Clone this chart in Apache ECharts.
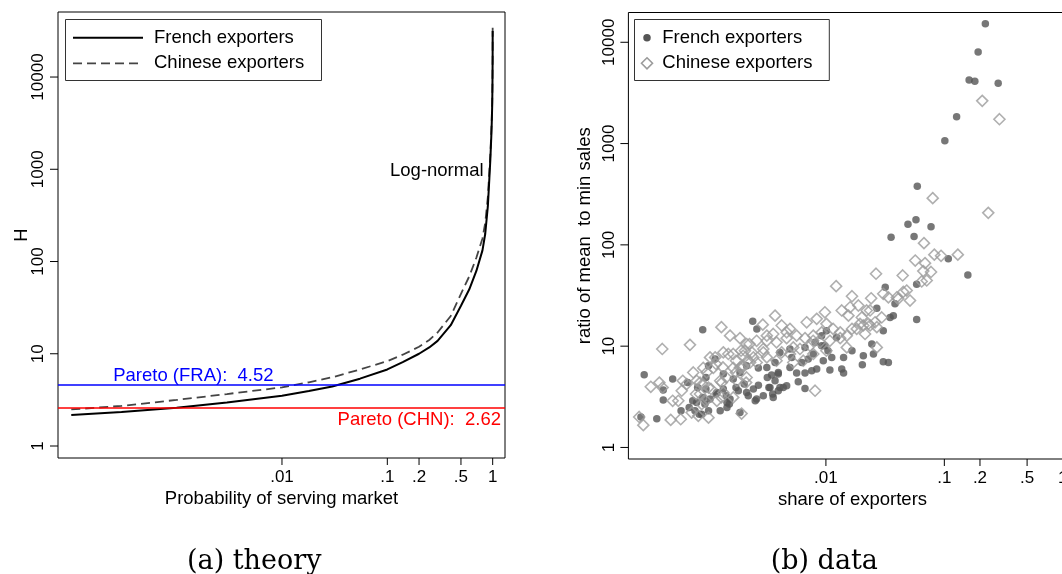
<!DOCTYPE html>
<html><head><meta charset="utf-8">
<script src="https://cdn.jsdelivr.net/npm/echarts@6/dist/echarts.min.js"></script>
<style>html,body{margin:0;padding:0;background:#fff}#c{width:1062px;height:574px}</style>
</head><body><div id="c"></div>
<script>
// ---------- data: panel (a) theory ----------
const probGrid = [0.0001, 0.0003, 0.001, 0.003, 0.01, 0.018, 0.03, 0.055, 0.1, 0.14, 0.2, 0.25, 0.3, 0.4, 0.5, 0.6, 0.7, 0.8, 0.85, 0.9, 0.93, 0.95, 0.97, 0.98, 0.99, 0.995, 0.999, 1];
const hFrench  = [2.17, 2.34, 2.6, 2.97, 3.5, 3.94, 4.42, 5.37, 6.76, 8.13, 10, 11.7, 13.8, 20.4, 33.1, 50, 79, 132, 200, 398, 794, 1260, 2240, 3160, 5010, 7940, 15800, 31600];
const hChinese = [2.49, 2.72, 3.16, 3.66, 4.32, 4.91, 5.56, 6.76, 8.32, 9.77, 11.9, 14.1, 17.0, 25.7, 44.7, 69.2, 110, 178, 263, 501, 955, 1450, 2510, 3470, 5370, 8320, 16200, 35500];
const paretoFRA = 4.52;
const paretoCHN = 2.62;

// ---------- data: panel (b) data ----------
const frShare = [0.222,0.193,0.162,0.181,0.285,0.127,0.101,0.0591,0.0493,0.0576,0.0772,0.0355,0.0555,0.108,0.158,0.0584,0.0317,0.0383,0.0371,0.0348,
0.0584,0.0305,0.0244,0.0207,0.0166,0.0252,0.0269,0.000911,0.00241,0.00261,0.0203,0.0305,0.0337,0.0141,0.0136,0.0141,0.0108,0.0098,0.0104,0.0112,
0.0095,0.00836,0.00759,0.00666,0.00566,0.00584,0.00666,0.00466,0.00409,0.00396,0.00355,0.0033,0.00372,0.00348,0.0032,0.00396,0.00497,0.00625,0.00514,0.00709,
0.00782,0.0123,0.0101,0.0092,0.00269,0.00296,0.00253,0.00214,0.00221,0.00182,0.00155,0.00146,0.00136,0.00165,0.00188,0.00214,0.00269,0.00317,0.0012,0.00105,
0.00095,0.00081,0.000784,0.00102,0.00128,0.00188,0.00146,0.000893,0.00102,0.00116,0.00136,0.00372,0.00409,0.00497,0.00666,0.0081,0.0092,0.00436,0.00359,0.00337,
0.00396,0.0026,0.00244,0.000292,0.000508,0.000423,0.000423,0.000274,0.000373,0.00068,0.000598,0.0007,0.000852,0.00153,0.00075,0.000911,0.00118,0.00144,0.000825,0.00097,
0.00174,0.00204,0.00097];
const frRatio = [15200,8000,4250,4120,3940,1840,1065,380,160,177,151,119,121,73,50.3,40.9,38.2,26.2,20.0,19.2,
18.3,14.2,10.5,8.05,9.02,8.37,23.7,14.5,17.6,14.8,6.56,7.02,6.9,7.74,5.95,5.43,5.8,10.1,9.02,7.74,
7.18,5.95,5.72,5.43,5.43,4.45,3.82,4.06,3.9,3.63,3.37,3.9,4.55,5.19,4.91,5.5,6.17,6.9,7.74,7.46,
8.37,12.2,14.2,10.1,4.12,3.24,2.89,3.49,3.24,3.63,3.0,2.78,3.78,4.73,5.5,6.41,6.1,6.17,3.49,3.0,
2.68,2.78,2.30,2.30,2.30,2.21,2.48,2.13,6.41,7.47,5.31,6.9,8.67,9.38,9.72,10.9,12.7,3.9,3.12,3.9,
5.31,3.0,3.78,5.23,4.73,3.69,2.94,2.0,1.92,4.37,2.30,2.48,2.13,2.68,2.89,3.12,3.37,3.24,3.9,3.78,
3.9,4.22,4.91];
const cnShare = [0.209,0.292,0.0798,0.235,0.0673,0.0823,0.0938,0.13,0.0568,0.0687,0.0265,0.0445,0.0664,0.0772,0.071,0.0644,0.0122,0.0166,0.0241,0.0305,
0.0397,0.0481,0.0337,0.0513,0.0188,0.0221,0.0296,0.026,0.0194,0.0214,0.0166,0.0269,0.0236,0.000265,0.000287,0.000415,0.000711,0.00131,0.000332,0.000392,
0.000418,0.000489,0.000567,0.000594,0.000667,0.000606,0.000758,0.00081,0.000735,0.000836,0.00102,0.000984,0.00116,0.00112,0.00128,0.0015,0.00194,0.000864,0.00102,0.00136,
0.000893,0.0012,0.00165,0.00188,0.00214,0.0026,0.00296,0.00359,0.00372,0.00317,0.00466,0.0053,0.00688,0.0078,0.0081,0.000618,0.00135,0.00118,0.00144,0.00174,
0.00198,0.00218,0.00192,0.00226,0.00174,0.00212,0.000911,0.00107,0.0008,0.00097,0.00131,0.000508,0.00293,0.00423,0.00497,0.0098,0.0136,0.0155,0.0236,0.0408,
0.045,0.00836,0.0101,0.0115,0.0132,0.015,0.0182,0.0207,0.0269,0.00155,0.00188,0.00214,0.0026,0.00317,0.00383,0.00466,0.00566,0.00666,0.00782,0.0092,
0.00423,0.00497,0.00604,0.00734,0.00891,0.0108,0.0132,0.00136,0.00165,0.002,0.00244,0.00296,0.00105,0.00092,0.000864,0.00165,0.002,0.00229,0.00132,0.00177,
0.00317,0.00383,0.0053,0.00644,0.00782,0.015,0.0101,0.016,0.0201,0.0228,0.00207,0.00237];
const cnRatio = [2640,1740,289,207,104,80,78,80,70,66,51.9,49.9,55.1,54,44.5,43.5,39.1,31.1,29.7,32.9,
30.3,35.4,30.3,28.2,25.2,22.5,19.2,17.2,16.6,13.2,14.8,9.72,16.0,2.0,1.66,9.38,10.3,15.4,3.97,4.37,
3.9,1.87,2.89,1.9,4.22,3.63,5.5,4.55,2.21,2.05,1.97,5.5,7.74,6.1,4.55,8.37,2.16,3.37,3.9,3.49,
2.68,2.89,3.12,6.17,4.91,6.9,9.38,13.2,20.0,11.3,13.7,9.72,17.2,11.3,3.63,4.55,6.17,6.67,4.91,7.18,
6.17,7.18,9.02,10.5,5.5,4.37,4.22,3.78,3.37,2.89,3.12,2.89,16.3,16.0,14.8,21.6,22.5,20.0,22.5,29.3,
34.3,18.6,16.6,14.8,13.7,12.7,14.8,16.0,15.4,12.7,12.0,10.5,11.3,12.7,10.9,12.0,12.7,12.0,12.7,13.7,
8.67,8.37,9.38,10.1,10.9,11.3,12.0,8.67,8.37,8.05,7.74,8.67,7.74,6.1,4.37,6.1,6.41,6.9,4.37,4.55,
7.74,7.18,6.9,7.18,8.37,9.72,9.02,24.2,19.2,16.6,9.02,8.67];

// ---------- tick labels ----------
const xTickValues = [0.01, 0.1, 0.2, 0.5, 1];
const xTickLabels = ['.01', '.1', '.2', '.5', '1'];
const yTickValues = [1, 10, 100, 1000, 10000];
const yTickLabels = ['1', '10', '100', '1000', '10000'];

// ---------- build ----------
const lg = Math.log10;
const pairs = (xs, ys) => xs.map((x, i) => [lg(x), lg(ys[i])]);
const labelFor = (vals, labels) => v => {
  const i = vals.findIndex(t => Math.abs(lg(t) - v) < 1e-6);
  return i >= 0 ? labels[i] : '';
};
const SANS = '"Liberation Sans", Arial, Helvetica, sans-serif';
const TXT = 18.5;
// axis extents (log10 units) for the two panels
const EXT = [
  { x: [-4.126, 0.117], y: [-0.130, 4.705] },
  { x: [-3.668, 0.117], y: [-0.114, 4.294] }
];

function xAx(grid, name) {
  return {
    gridIndex: grid, type: 'value', min: EXT[grid].x[0], max: EXT[grid].x[1], position: 'bottom',
    axisLine: { show: false, onZero: false }, splitLine: { show: false },
    axisTick: { show: false },
    axisLabel: { customValues: xTickValues.map(lg), formatter: labelFor(xTickValues, xTickLabels),
      fontSize: 17, fontFamily: SANS, color: '#000', margin: 11 },
    name: name, nameLocation: 'middle', nameGap: 31, nameMoveOverlap: false,
    nameTextStyle: { fontSize: TXT, fontFamily: SANS, color: '#000' }
  };
}
function yAx(grid, name, gap) {
  return {
    gridIndex: grid, type: 'value', min: EXT[grid].y[0], max: EXT[grid].y[1], position: 'left',
    axisLine: { show: false, onZero: false }, splitLine: { show: false },
    axisTick: { show: false },
    axisLabel: { customValues: yTickValues.map(lg), formatter: labelFor(yTickValues, yTickLabels),
      rotate: 90, fontSize: 17, fontFamily: SANS, color: '#000', margin: 11 },
    name: name, nameLocation: 'middle', nameGap: gap, nameMoveOverlap: false,
    nameTextStyle: { fontSize: TXT, fontFamily: SANS, color: '#000' }
  };
}

const chart = echarts.init(document.getElementById('c'), null, { renderer: 'canvas' });
const option = {
  animation: false,
  backgroundColor: '#fff',
  grid: [
    { left: 58, top: 12, width: 447, height: 446, show: true, borderColor: '#000', borderWidth: 1,
      backgroundColor: 'transparent', containLabel: false, outerBoundsMode: 'none' },
    { left: 628.4, top: 12.5, width: 448.2, height: 446.5, show: true, borderColor: '#000', borderWidth: 1,
      backgroundColor: 'transparent', containLabel: false, outerBoundsMode: 'none' }
  ],
  xAxis: [ xAx(0, 'Probability of serving market'), xAx(1, 'share of exporters') ],
  yAxis: [ yAx(0, 'H', 27), yAx(1, 'ratio of mean  to min sales', 34) ],
  series: [
    {
      name: 'frLine', type: 'line', xAxisIndex: 0, yAxisIndex: 0,
      data: pairs(probGrid, hFrench), symbol: 'none', smooth: false,
      lineStyle: { color: '#000', width: 2 }, z: 3,
      markLine: {
        symbol: 'none', silent: true, animation: false, label: { show: false },
        data: [
          { yAxis: lg(paretoFRA), lineStyle: { color: '#0000ff', width: 1.5, type: 'solid' } },
          { yAxis: lg(paretoCHN), lineStyle: { color: '#ff0000', width: 1.5, type: 'solid' } }
        ]
      }
    },
    {
      name: 'cnLine', type: 'line', xAxisIndex: 0, yAxisIndex: 0,
      data: pairs(probGrid, hChinese), symbol: 'none', smooth: false,
      lineStyle: { color: '#444', width: 1.8, type: [9, 5] }, z: 2
    },
    {
      name: 'frPts', type: 'scatter', xAxisIndex: 1, yAxisIndex: 1,
      data: pairs(frShare, frRatio), symbol: 'circle', symbolSize: 7.5,
      itemStyle: { color: '#555555' }
    },
    {
      name: 'cnPts', type: 'scatter', xAxisIndex: 1, yAxisIndex: 1,
      data: pairs(cnShare, cnRatio), symbol: 'diamond', symbolSize: 11,
      itemStyle: { color: 'rgba(0,0,0,0)', borderColor: '#9b9b9b', borderWidth: 1.6 }
    }
  ]
};
chart.setOption(option);

// ---------- tick marks, annotations & legends (positioned through the axes' scales) ----------
const px = (g, x, y) => chart.convertToPixel({ gridIndex: g }, [x, y]);
const tx = (text, x, y, align, vAlign, fill, font) => ({
  type: 'text', silent: true, z: 10,
  style: { text: text, x: x, y: y, align: align, verticalAlign: vAlign, fill: fill || '#000',
    font: font || (TXT + 'px ' + SANS) }
});
const ticks = [];
[0, 1].forEach(g => {
  xTickValues.forEach(v => {
    const p = px(g, lg(v), EXT[g].y[0]);
    ticks.push({ type: 'line', silent: true, z: 5, shape: { x1: p[0], y1: p[1], x2: p[0], y2: p[1] + 7 },
      style: { stroke: '#000', lineWidth: 1 } });
  });
  yTickValues.forEach(v => {
    const p = px(g, EXT[g].x[0], lg(v));
    ticks.push({ type: 'line', silent: true, z: 5, shape: { x1: p[0] - 8, y1: p[1], x2: p[0], y2: p[1] },
      style: { stroke: '#000', lineWidth: 1 } });
  });
});
const pLog = px(0, lg(0.82), lg(950));
const pFra = px(0, lg(0.00025), lg(paretoFRA));
const pChn = px(0, lg(1.2), lg(paretoCHN));
const SERIF = '27px "DejaVu Serif", "Liberation Serif", serif';

chart.setOption({
  graphic: ticks.concat([
    tx('Log-normal', pLog[0], pLog[1], 'right', 'middle'),
    tx('Pareto (FRA):  ' + paretoFRA.toFixed(2), pFra[0], pFra[1] - 10, 'left', 'middle', '#0000ff'),
    tx('Pareto (CHN):  ' + paretoCHN.toFixed(2), pChn[0], pChn[1] + 12, 'right', 'middle', '#ff0000'),
    // legend (a)
    { type: 'rect', silent: true, z: 10, shape: { x: 65.5, y: 19.5, width: 256, height: 61 },
      style: { fill: '#fff', stroke: '#333', lineWidth: 1 } },
    { type: 'line', silent: true, z: 11, shape: { x1: 73, y1: 37.7, x2: 143, y2: 37.7 },
      style: { stroke: '#000', lineWidth: 2 } },
    { type: 'line', silent: true, z: 11, shape: { x1: 73, y1: 63.3, x2: 143, y2: 63.3 },
      style: { stroke: '#444', lineWidth: 1.8, lineDash: [9, 5] } },
    tx('French exporters', 154, 37.7, 'left', 'middle'),
    tx('Chinese exporters', 154, 63.3, 'left', 'middle'),
    // legend (b)
    { type: 'rect', silent: true, z: 10, shape: { x: 634.5, y: 19.5, width: 194.8, height: 61 },
      style: { fill: '#fff', stroke: '#333', lineWidth: 1 } },
    { type: 'circle', silent: true, z: 11, shape: { cx: 647, cy: 37.7, r: 3.75 },
      style: { fill: '#555555' } },
    { type: 'polygon', silent: true, z: 11, shape: { points: [[647, 57.8], [652.5, 63.3], [647, 68.8], [641.5, 63.3]] },
      style: { fill: 'none', stroke: '#9b9b9b', lineWidth: 1.6 } },
    tx('French exporters', 662.3, 37.7, 'left', 'middle'),
    tx('Chinese exporters', 662.3, 63.3, 'left', 'middle'),
    // captions
    tx('(a) theory', 254.2, 562, 'center', 'middle', '#000', SERIF),
    tx('(b) data', 824.3, 562, 'center', 'middle', '#000', SERIF)
  ])
});
</script></body></html>
